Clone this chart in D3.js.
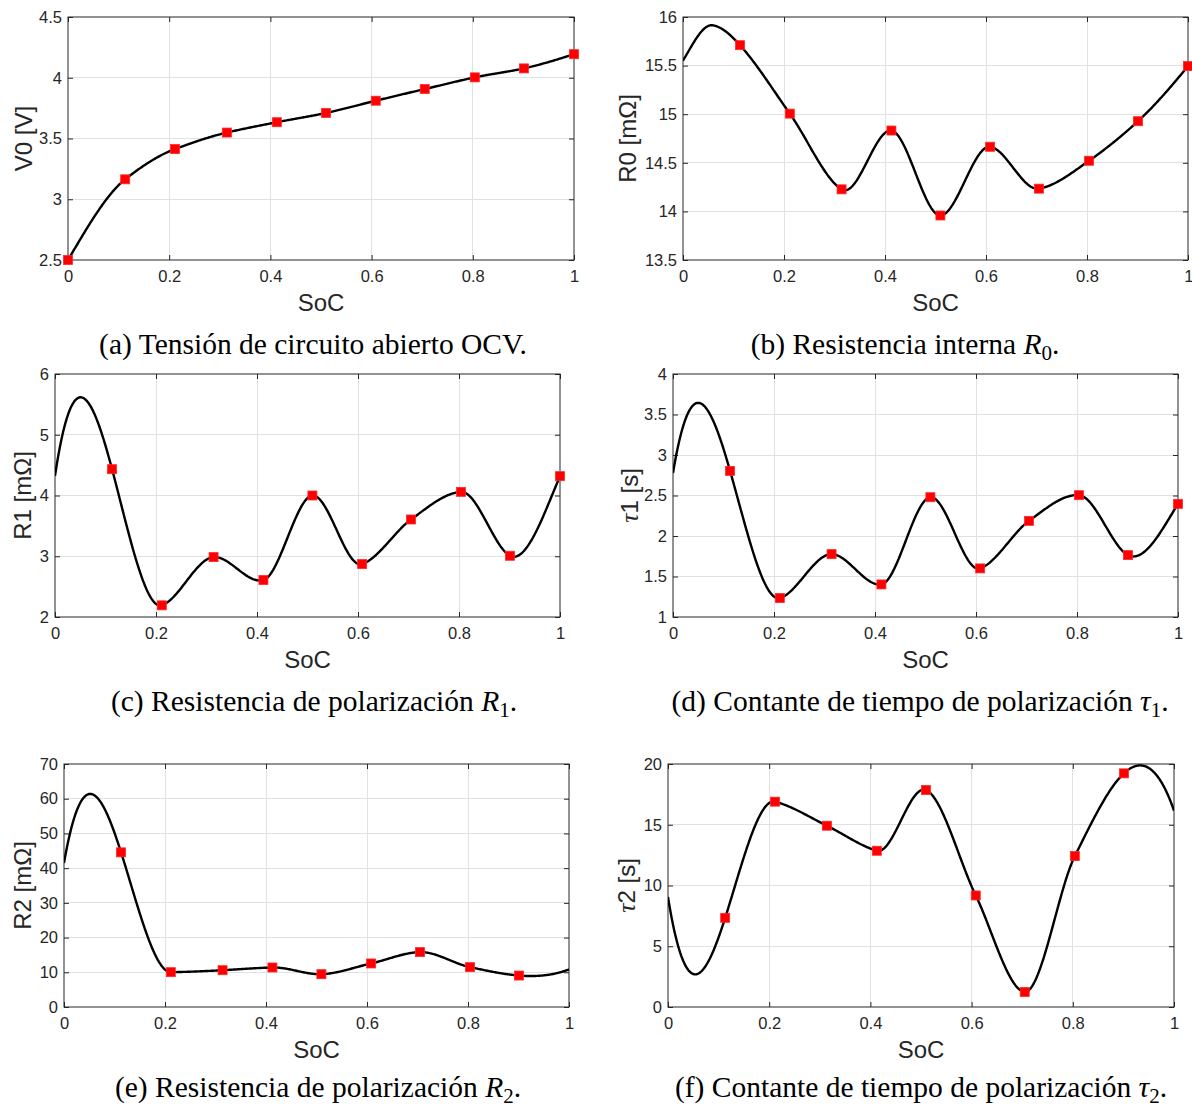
<!DOCTYPE html>
<html>
<head>
<meta charset="utf-8">
<script src="https://cdn.jsdelivr.net/npm/d3@7"></script>
<style>
  html, body { margin: 0; padding: 0; background: #fff; }
  svg { display: block; }
</style>
</head>
<body>
<div id="chart"></div>
<script>
// ---------- DATA ----------
const soc      = [0.113, 0.2115, 0.314, 0.4127, 0.5097, 0.6082, 0.705, 0.804, 0.901, 1.0];
const socOCV   = [0].concat(soc);
const v0       = [2.50, 3.164, 3.413, 3.549, 3.634, 3.710, 3.811, 3.907, 4.003, 4.077, 4.194];
const r0       = [15.71, 15.006, 14.227, 14.832, 13.958, 14.665, 14.234, 14.521, 14.928, 15.495];
const r1       = [4.433, 2.192, 2.986, 2.608, 4.00, 2.871, 3.605, 4.060, 3.008, 4.318];
const tau1     = [2.804, 1.234, 1.776, 1.402, 2.479, 1.600, 2.187, 2.504, 1.764, 2.397];
const socRC2   = soc.slice(0, 9);
const r2       = [44.55, 10.03, 10.6, 11.38, 9.45, 12.54, 15.81, 11.48, 9.06];
const tau2     = [7.34, 16.9, 14.92, 12.86, 17.86, 9.18, 1.24, 12.42, 19.23];
// R0 curve points with no marker (start value and the hump before the first marker)
const r0CurveSoc = [0, 0.059];
const r0CurveVal = [15.55, 15.915];

const xTickLabels  = ["0", "0.2", "0.4", "0.6", "0.8", "1"];
const yTicksV0     = ["2.5", "3", "3.5", "4", "4.5"];
const yTicksR0     = ["13.5", "14", "14.5", "15", "15.5", "16"];
const yTicksR1     = ["2", "3", "4", "5", "6"];
const yTicksTau1   = ["1", "1.5", "2", "2.5", "3", "3.5", "4"];
const yTicksR2     = ["0", "10", "20", "30", "40", "50", "60", "70"];
const yTicksTau2   = ["0", "5", "10", "15", "20"];

const yLabels  = ["V0 [V]", "R0 [mΩ]", "R1 [mΩ]", "τ|1 [s]", "R2 [mΩ]", "τ|2 [s]"];
const captions = [
  ["(a) Tensión de circuito abierto OCV.", null, null],
  ["(b) Resistencia interna ", "R", "0"],
  ["(c) Resistencia de polarización ", "R", "1"],
  ["(d) Contante de tiempo de polarización ", "τ", "1"],
  ["(e) Resistencia de polarización ", "R", "2"],
  ["(f) Contante de tiempo de polarización ", "τ", "2"]
];

// ---------- LAYOUT ----------
const W = 1192, H = 1109;
const panels = [
  {x: socOCV, y: v0,   yt: yTicksV0,   box: [68, 574, 17, 260],   ylOff: 44, cap: [313, 354]},
  {x: soc,    y: r0,   yt: yTicksR0,   box: [683, 1188, 17, 260], ylOff: 55, cap: [905, 354],
   cx: r0CurveSoc, cy: r0CurveVal},
  {x: soc,    y: r1,   yt: yTicksR1,   box: [55, 560, 374, 617],  ylOff: 32, cap: [314, 711]},
  {x: soc,    y: tau1, yt: yTicksTau1, box: [673, 1178, 374, 617],ylOff: 43, cap: [920, 711]},
  {x: socRC2, y: r2,   yt: yTicksR2,   box: [64, 569, 764, 1007], ylOff: 41, cap: [318, 1097]},
  {x: socRC2, y: tau2, yt: yTicksTau2, box: [668, 1174, 764, 1007],ylOff: 41, cap: [921, 1097]}
];

// MATLAB-style "makima" interpolant (with its natural extrapolation), used to draw the smooth curve
function makima(xs, ys) {
  const n = xs.length;
  const h = [], del = [];
  for (let i = 0; i < n - 1; i++) { h.push(xs[i + 1] - xs[i]); del.push((ys[i + 1] - ys[i]) / h[i]); }
  const dm1 = 2 * del[0] - del[1], dm2 = 2 * dm1 - del[0];
  const dn = 2 * del[n - 2] - del[n - 3], dn1 = 2 * dn - del[n - 2];
  const D = [dm2, dm1].concat(del, [dn, dn1]);
  const s = [];
  for (let i = 0; i < n; i++) {
    const dim2 = D[i], dim1 = D[i + 1], di = D[i + 2], dip1 = D[i + 3];
    const w1 = Math.abs(dip1 - di) + Math.abs(dip1 + di) / 2;
    const w2 = Math.abs(dim1 - dim2) + Math.abs(dim1 + dim2) / 2;
    s.push(w1 + w2 === 0 ? 0 : (w1 * dim1 + w2 * di) / (w1 + w2));
  }
  return function (x) {
    let i = 0;
    while (i < n - 2 && x > xs[i + 1]) i++;
    const hi = h[i], t = (x - xs[i]) / hi, t2 = t * t, t3 = t2 * t;
    return (2 * t3 - 3 * t2 + 1) * ys[i] + (t3 - 2 * t2 + t) * hi * s[i]
         + (-2 * t3 + 3 * t2) * ys[i + 1] + (t3 - t2) * hi * s[i + 1];
  };
}

const svg = d3.select("#chart").append("svg")
  .attr("width", W).attr("height", H)
  .attr("viewBox", `0 0 ${W} ${H}`);
svg.append("rect").attr("width", W).attr("height", H).attr("fill", "#fff");

const axisColor = "#262626";
const sans = "'Liberation Sans', Arial, Helvetica, sans-serif";
const serif = "'Liberation Serif', 'Times New Roman', Times, serif";

panels.forEach((p, idx) => {
  const [L, R, T, B] = p.box;
  const yt = p.yt.map(Number);
  const x = d3.scaleLinear().domain([0, 1]).range([L, R]);
  const y = d3.scaleLinear().domain([yt[0], yt[yt.length - 1]]).range([B, T]);
  const xt = xTickLabels.map(Number);
  const g = svg.append("g");

  svg.append("clipPath").attr("id", "clip" + idx)
    .append("rect").attr("x", L).attr("y", T).attr("width", R - L).attr("height", B - T);

  // grid
  g.append("g").selectAll("line").data(xt.slice(1, -1)).join("line")
    .attr("x1", d => x(d)).attr("x2", d => x(d)).attr("y1", T).attr("y2", B)
    .attr("stroke", "#e1e1e1").attr("stroke-width", 1).attr("shape-rendering", "crispEdges");
  g.append("g").selectAll("line").data(yt.slice(1, -1)).join("line")
    .attr("y1", d => y(d)).attr("y2", d => y(d)).attr("x1", L).attr("x2", R)
    .attr("stroke", "#e1e1e1").attr("stroke-width", 1).attr("shape-rendering", "crispEdges");

  // axes (ticks inside, box on all four sides)
  const tk = 5;
  const bottom = g.append("g").attr("transform", `translate(0,${B})`)
    .call(d3.axisBottom(x).tickValues(xt).tickSizeInner(-tk).tickSizeOuter(0).tickPadding(10)
      .tickFormat((d, i) => xTickLabels[i]));
  const top = g.append("g").attr("transform", `translate(0,${T})`)
    .call(d3.axisTop(x).tickValues(xt).tickSizeInner(-tk).tickSizeOuter(0).tickFormat(""));
  const left = g.append("g").attr("transform", `translate(${L},0)`)
    .call(d3.axisLeft(y).tickValues(yt).tickSizeInner(-tk).tickSizeOuter(0).tickPadding(6)
      .tickFormat((d, i) => p.yt[i]));
  const right = g.append("g").attr("transform", `translate(${R},0)`)
    .call(d3.axisRight(y).tickValues(yt).tickSizeInner(-tk).tickSizeOuter(0).tickFormat(""));
  [bottom, top, left, right].forEach(a => {
    a.selectAll(".domain").remove();
    a.selectAll(".tick line").attr("stroke", axisColor).attr("stroke-width", 1);
    a.selectAll(".tick text").attr("fill", axisColor).style("font-family", sans).style("font-size", "16.5px");
  });
  if (R > W - 10) bottom.selectAll(".tick:last-of-type text").attr("text-anchor", "end").attr("dx", "0.3em");
  g.append("rect").attr("x", L).attr("y", T).attr("width", R - L).attr("height", B - T)
    .attr("fill", "none").attr("stroke", axisColor).attr("stroke-width", 1);

  // curve
  let kx = p.x.slice(), ky = p.y.slice();
  if (p.cx) { kx = p.cx.concat(kx); ky = p.cy.concat(ky); }
  const f = makima(kx, ky);
  const pts = d3.range(0, 1.0001, 0.002).map(s => [s, f(s)]);
  g.append("path").datum(pts)
    .attr("clip-path", `url(#clip${idx})`)
    .attr("fill", "none").attr("stroke", "#000").attr("stroke-width", 2.4)
    .attr("stroke-linejoin", "round")
    .attr("d", d3.line().x(d => x(d[0])).y(d => y(d[1])));

  // markers
  const ms = 9;
  g.append("g").selectAll("rect").data(p.x.map((s, i) => [s, p.y[i]])).join("rect")
    .attr("x", d => x(d[0]) - ms / 2).attr("y", d => y(d[1]) - ms / 2)
    .attr("width", ms).attr("height", ms)
    .attr("fill", "#ff0000").attr("stroke", "#ff2a2a").attr("stroke-width", 0.8);

  // x label
  g.append("text").attr("x", (L + R) / 2).attr("y", B + 43).attr("dy", "0.35em")
    .attr("text-anchor", "middle").attr("fill", axisColor)
    .style("font-family", sans).style("font-size", "24px").text("SoC");

  // y label
  const yl = yLabels[idx];
  const ylt = g.append("text")
    .attr("transform", `translate(${L - p.ylOff},${(T + B) / 2}) rotate(-90)`)
    .attr("dy", "0.35em").attr("text-anchor", "middle").attr("fill", axisColor)
    .style("font-family", sans).style("font-size", "24px");
  if (yl.includes("|")) {
    const parts = yl.split("|");
    ylt.append("tspan").style("font-family", serif).style("font-style", "italic").style("font-size", "26px").text(parts[0]);
    ylt.append("tspan").text(parts[1]);
  } else {
    ylt.text(yl);
  }

  // caption
  const c = captions[idx];
  const ct = svg.append("text").attr("x", p.cap[0]).attr("y", p.cap[1])
    .attr("text-anchor", "middle").attr("fill", "#000")
    .style("font-family", serif).style("font-size", "29.5px");
  ct.append("tspan").text(c[0]);
  if (c[1]) {
    ct.append("tspan").style("font-style", "italic").text(c[1]);
    ct.append("tspan").attr("dy", 6).style("font-size", "21px").text(c[2]);
    ct.append("tspan").attr("dy", -6).text(".");
  }
});
</script>
</body>
</html>
